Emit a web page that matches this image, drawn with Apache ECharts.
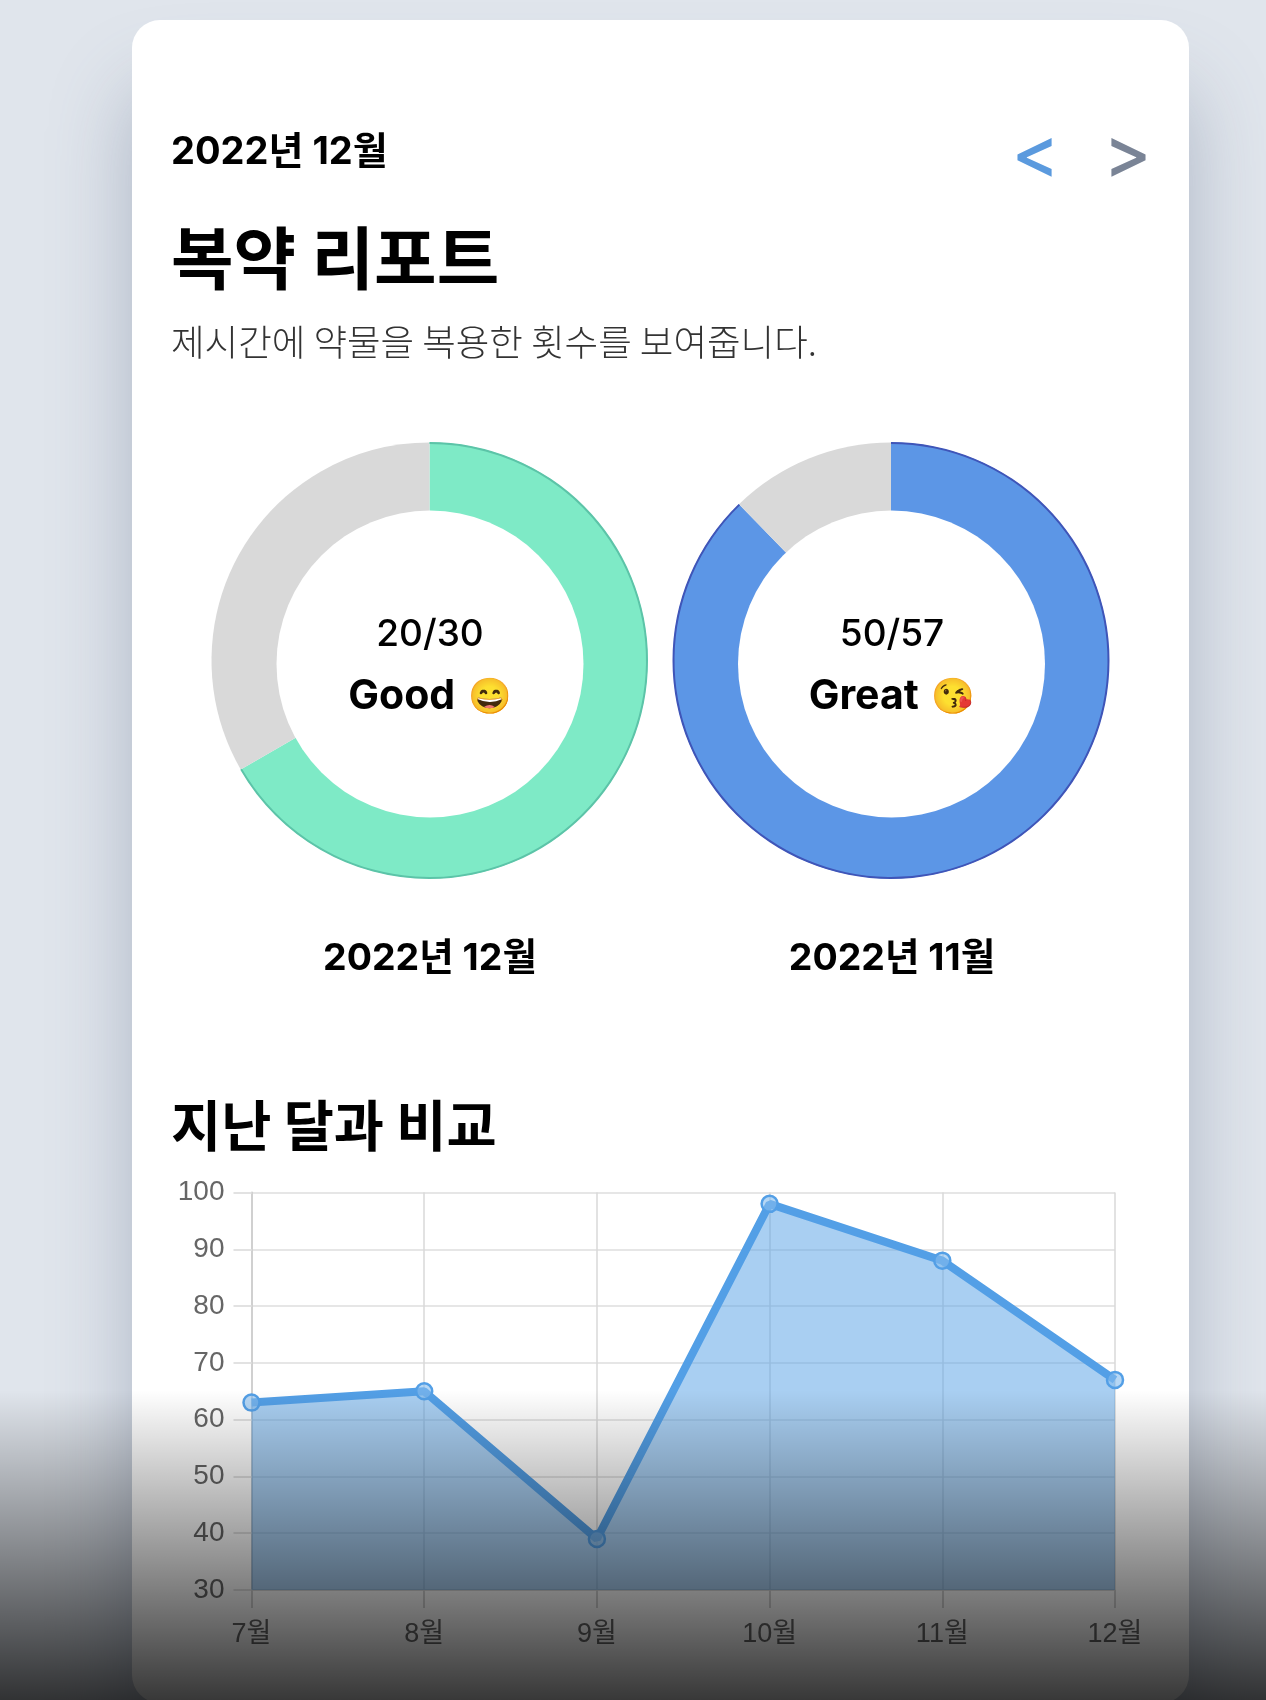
<!DOCTYPE html>
<html><head><meta charset="utf-8">
<style>html,body{margin:0;padding:0;background:#e0e5ec}#c{width:1266px;height:1700px}</style>
<script src="https://cdn.jsdelivr.net/npm/echarts@6/dist/echarts.min.js"></script>
</head><body><div id="c"></div>
<script>
const months = ['7월','8월','9월','10월','11월','12월'];
const monthlyValues = [63,65,39,98,88,67];
const donutDec = [20,10];
const donutNov = [50,7];
const FONT = 'Inter, "Noto Sans CJK KR", "Noto Color Emoji", sans-serif';
const KFONT = '"Noto Sans CJK KR", Inter, sans-serif';
const AXFONT = '"Liberation Sans", "Noto Sans CJK KR", sans-serif';
const chart = echarts.init(document.getElementById('c'), null, {renderer:'canvas'});
function txt(text,x,y,size,weight,color,align,family){
  return {type:'text',x,y,z:6,silent:true,style:{text,fontSize:size,fontWeight:weight,fill:color||'#000',align:align||'left',verticalAlign:'middle',fontFamily:family||FONT}};
}
function face(word,emoji,x,y){
  return {type:'text',x,y,z:6,silent:true,style:{text:'{w|'+word+'}{g|\u00a0}{e|'+emoji+'}',align:'center',verticalAlign:'middle',
    rich:{w:{fontSize:41,fontWeight:'700',fill:'#000',fontFamily:FONT},g:{fontSize:35,width:13,fontFamily:FONT},e:{fontSize:35,fontFamily:FONT}}}};
}
function hole(cx,cy){
  return {type:'circle',z:5,silent:true,shape:{cx,cy,r:153.5},style:{fill:'#fff'}};
}
function donut(center,data,color,edge){
  return [{
    type:'pie',center,radius:[0,218],silent:true,animation:false,label:{show:false},labelLine:{show:false},
    data:[{value:data[0],itemStyle:{color}},{value:data[1],itemStyle:{color:'#d9d9d9'}}]
  },{
    type:'pie',center,radius:[216.5,218.5],silent:true,animation:false,label:{show:false},labelLine:{show:false},
    data:[{value:data[0],itemStyle:{color:edge}},{value:data[1],itemStyle:{color:'rgba(0,0,0,0)'}}]
  }];
}
chart.setOption({
  backgroundColor:'#e0e5ec',
  animation:false,
  grid:{left:251.5,top:1192.5,width:863.5,height:397.5,containLabel:false},
  xAxis:{type:'category',data:months,boundaryGap:false,
    axisLine:{show:true,lineStyle:{color:'#dcdcdc',width:2}},
    axisTick:{show:true,length:18,alignWithLabel:true,lineStyle:{color:'#d4d4d4',width:2}},
    splitLine:{show:true,lineStyle:{color:'#d8d8d8',width:1.5}},
    axisLabel:{color:'#666',fontSize:27,fontFamily:AXFONT,margin:31,interval:0}},
  yAxis:{type:'value',min:30,max:100,interval:10,
    axisLine:{show:true,lineStyle:{color:'#d0d0d0',width:2}},
    axisTick:{show:true,length:18,lineStyle:{color:'#e2e2e2',width:2}},
    splitLine:{show:true,lineStyle:{color:'#e6e6e6',width:2}},
    axisLabel:{color:'#666',fontSize:28,fontFamily:AXFONT,margin:27,padding:[6,0,0,0]}},
  series:[
    ...donut([429.5,660.5],donutDec,'#7eeac6','#5cc4a8'),
    ...donut([891,660.5],donutNov,'#5c96e6','#3f55b8'),
    {type:'line',data:monthlyValues,silent:true,animation:false,symbol:'circle',symbolSize:16,
     lineStyle:{color:'#539fe6',width:8},
     itemStyle:{color:'rgba(134,188,239,0.6)',borderColor:'#539fe6',borderWidth:2.5},
     areaStyle:{color:'#539fe6',opacity:0.5}}
  ],
  graphic:{elements:[
    {type:'rect',z:-10,silent:true,shape:{x:132,y:20,width:1057,height:1683,r:28},
     style:{fill:'#fff',shadowBlur:80,shadowColor:'rgba(90,105,135,0.38)',shadowOffsetY:70}},
    hole(430,664), hole(891.5,664),
    txt('2022년 12월',171,153,38,'700'),
    txt('<',1035.5,156,72,'500','#5b9ade','center'),
    txt('>',1127.5,156,72,'500','#7a8496','center'),
    txt('복약 리포트',171,258,68,'700','#000','left',KFONT),
    txt('제시간에 약물을 복용한 횟수를 보여줍니다.',171,342,36.5,'300','#333','left',KFONT),
    txt('20/30',430,635,37,'500','#000','center'),
    face('Good','😄',430,697),
    txt('50/57',892,635,37,'500','#000','center'),
    face('Great','😘',892,697),
    txt('2022년 12월',430,959,37.5,'700','#000','center'),
    txt('2022년 11월',892,959,37.5,'700','#000','center'),
    txt('지난 달과 비교',171,1125,54.5,'700','#000','left',KFONT),
    {type:'rect',z:100,silent:true,shape:{x:0,y:1390,width:1266,height:310},
     style:{fill:new echarts.graphic.LinearGradient(0,0,0,1,[{offset:0,color:'rgba(0,0,0,0)'},{offset:1,color:'rgba(0,0,0,0.78)'}])}}
  ]}
});
</script></body></html>
